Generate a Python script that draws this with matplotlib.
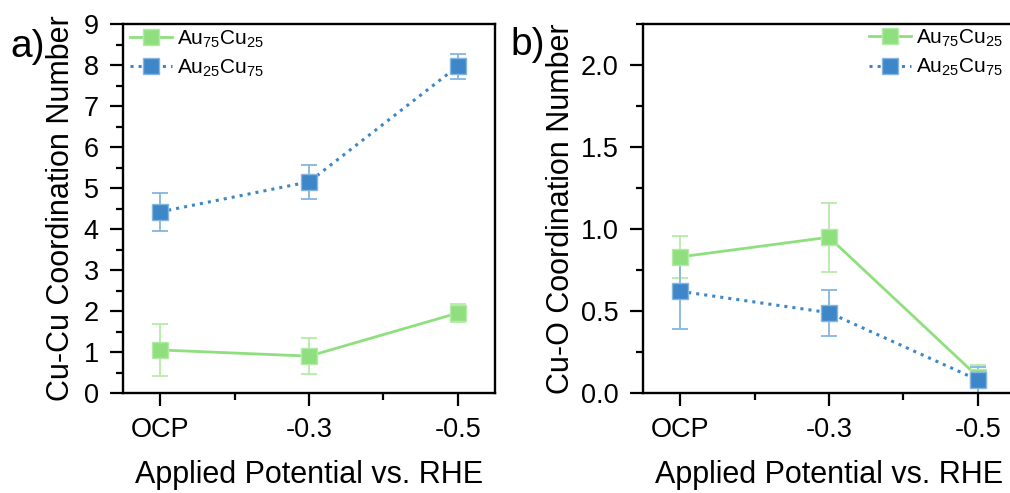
import matplotlib.pyplot as plt
from matplotlib.ticker import MultipleLocator

plt.rcParams['font.family'] = ['Liberation Sans', 'DejaVu Sans']
plt.rcParams['mathtext.fontset'] = 'custom'
plt.rcParams['mathtext.rm'] = 'Liberation Sans'
plt.rcParams['mathtext.it'] = 'Liberation Sans'

potentials = ['OCP', '-0.3', '-0.5']
labels = [r'Au$_{75}$Cu$_{25}$', r'Au$_{25}$Cu$_{75}$']

# Cu-Cu coordination number
cucu_au75 = [1.05, 0.90, 1.95]
cucu_au75_err = [0.63, 0.44, 0.22]
cucu_au25 = [4.42, 5.15, 7.97]
cucu_au25_err = [0.47, 0.42, 0.31]

# Cu-O coordination number
cuo_au75 = [0.83, 0.95, 0.10]
cuo_au75_err = [0.13, 0.21, 0.07]
cuo_au25 = [0.62, 0.49, 0.08]
cuo_au25_err = [0.23, 0.14, 0.08]

green = '#90df7e'
blue = '#3d87c8'
green_err = '#b4eaa8'
blue_err = '#86b5df'

fig = plt.figure(figsize=(10.1, 4.93), dpi=100)
ax_a = fig.add_axes([0.1218, 0.2028, 0.3683, 0.7485])
ax_b = fig.add_axes([0.6366, 0.2028, 0.3683, 0.7485])

x = range(len(potentials))


def draw(ax, y1, e1, y2, e2):
	ax.errorbar(x, y1, yerr=e1, fmt='none', ecolor=green_err, elinewidth=1.3, capsize=5.5, capthick=1.3, zorder=2)
	ax.errorbar(x, y2, yerr=e2, fmt='none', ecolor=blue_err, elinewidth=1.3, capsize=5.5, capthick=1.3, zorder=2)
	ax.plot(x, y1, ls='-', c=green, lw=2.0, marker='s', ms=11.5, mfc=green, mec=green_err, mew=1, label=labels[0], zorder=3)
	ax.plot(x, y2, ls=':', c=blue, lw=2.2, marker='s', ms=11.5, mfc=blue, mec=blue_err, mew=1, label=labels[1], zorder=3)
	ax.set_xlim(-0.25, 2.25)
	ax.set_xticks(list(x))
	ax.set_xticklabels(potentials)
	ax.xaxis.set_minor_locator(MultipleLocator(0.5))
	ax.tick_params(which='major', direction='out', length=9.5, width=1.6, labelsize=19.5, pad=8)
	ax.tick_params(which='minor', direction='out', length=5, width=1.6)
	for s in ax.spines.values():
		s.set_linewidth(1.7)
	ax.set_xlabel('Applied Potential vs. RHE', fontsize=22, labelpad=12)


draw(ax_a, cucu_au75, cucu_au75_err, cucu_au25, cucu_au25_err)
ax_a.set_ylim(0, 9)
ax_a.yaxis.set_major_locator(MultipleLocator(1))
ax_a.yaxis.set_minor_locator(MultipleLocator(0.5))
ax_a.set_ylabel('Cu-Cu Coordination Number', fontsize=22, labelpad=5.5)
ax_a.legend(loc='upper left', bbox_to_anchor=(0.019, 0.988), frameon=False, fontsize=15,
	handlelength=2.0, borderpad=0, borderaxespad=0, labelspacing=0.38, handletextpad=0.25)
fig.text(0.01, 0.884, 'a)', fontsize=28)

draw(ax_b, cuo_au75, cuo_au75_err, cuo_au25, cuo_au25_err)
ax_b.set_ylim(0, 2.25)
ax_b.yaxis.set_major_locator(MultipleLocator(0.5))
ax_b.yaxis.set_minor_locator(MultipleLocator(0.25))
ax_b.yaxis.set_major_formatter('{x:.1f}')
ax_b.set_ylabel('Cu-O Coordination Number', fontsize=22, labelpad=3.5)
ax_b.legend(loc='upper left', bbox_to_anchor=(0.608, 0.99), frameon=False, fontsize=15,
	handlelength=2.0, borderpad=0, borderaxespad=0, labelspacing=0.38, handletextpad=0.25)
fig.text(0.505, 0.888, 'b)', fontsize=28)

fig.savefig('out.png', dpi=100)
